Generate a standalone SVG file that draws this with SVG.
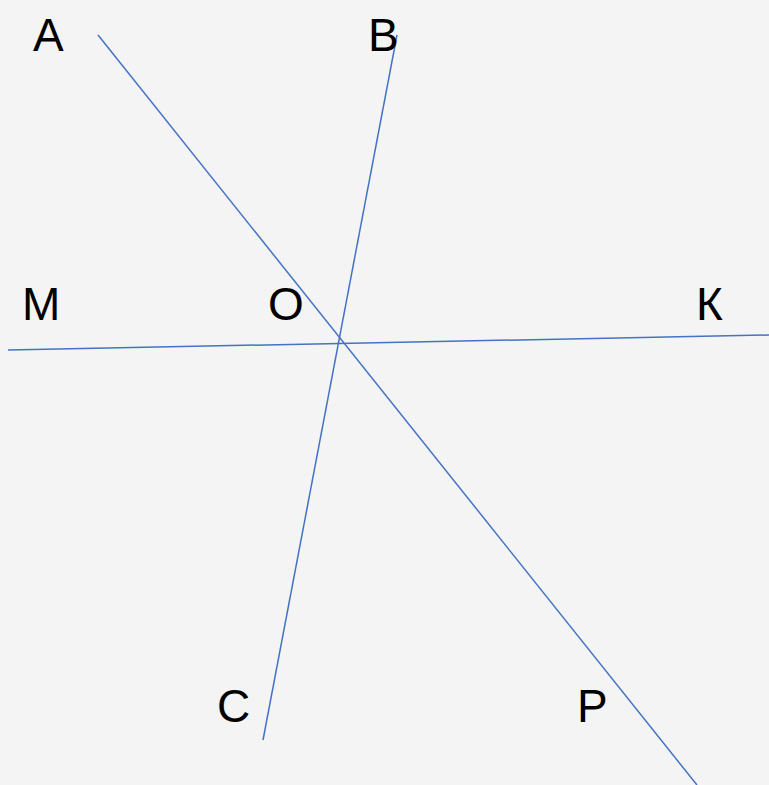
<svg xmlns="http://www.w3.org/2000/svg" width="769" height="785" viewBox="0 0 769 785">
<style>
.t{font-family:"Liberation Sans",Arial,sans-serif;font-size:46px;fill:#000}
.l{stroke:#4472c4;stroke-width:1.5;fill:none}
</style>
<rect width="769" height="785" fill="#f4f4f4"/>
<g id="connectors">
<line class="l" x1="98" y1="35" x2="697" y2="785"/>
<line class="l" x1="397" y1="35" x2="263" y2="740"/>
<line class="l" x1="8" y1="350" x2="769" y2="335"/>
</g>
<g id="A"><text class="t" x="33" y="51">А</text></g>
<g id="B"><text class="t" x="368" y="51">В</text></g>
<g id="M"><text class="t" x="22" y="320">М</text></g>
<g id="O"><text class="t" x="268" y="320">О</text></g>
<g id="K"><text class="t" x="696" y="320">К</text></g>
<g id="C"><text class="t" x="217" y="722">С</text></g>
<g id="P"><text class="t" x="577" y="722">Р</text></g>
</svg>
